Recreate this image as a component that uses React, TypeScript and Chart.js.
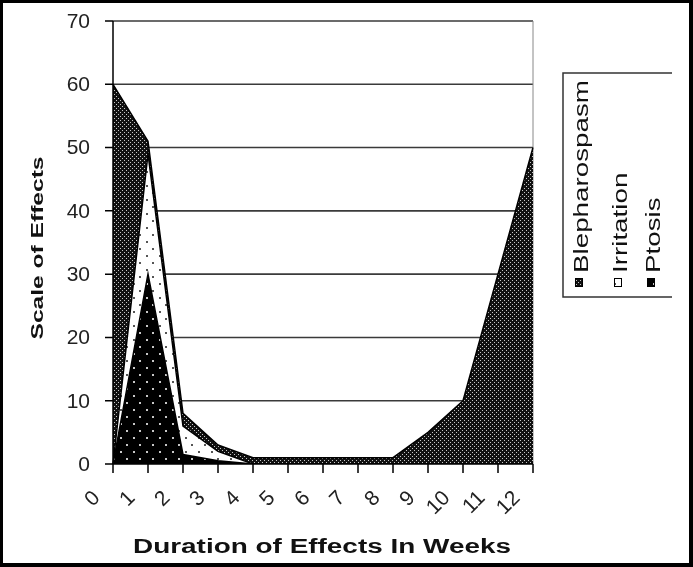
import React, { useEffect, useRef } from 'react';
import { Chart, registerables } from 'chart.js';

Chart.register(...registerables);

const weeks = ['0', '1', '2', '3', '4', '5', '6', '7', '8', '9', '10', '11', '12'];
const blepharospasm = [60, 51, 8, 3, 1, 1, 1, 1, 1, 5, 10, 30, 50];
const irritation = [0, 49, 6, 2, 0, 0, 0, 0, 0, 0, 0, 0, 0];
const ptosis = [0, 30, 1.5, 0.5, 0, 0, 0, 0, 0, 0, 0, 0, 0];
const yTicks = [0, 10, 20, 30, 40, 50, 60, 70];
const seriesNames = ['Blepharospasm', 'Irritation', 'Ptosis'];
const yTitle = 'Scale of Effects';
const xTitle = 'Duration of Effects In Weeks';

const FONT = '"Liberation Sans", Arial, sans-serif';

function makePattern(kind: string): CanvasPattern | string {
  const c = document.createElement('canvas');
  if (kind === 'dense') {
    c.width = 4;
    c.height = 4;
    const g = c.getContext('2d')!;
    g.fillStyle = '#111';
    g.fillRect(0, 0, 4, 4);
    g.fillStyle = '#c8c8c8';
    g.fillRect(0, 0, 1, 1);
    g.fillRect(2, 2, 1, 1);
  } else {
    c.width = 13;
    c.height = 14;
    const g = c.getContext('2d')!;
    g.fillStyle = kind === 'white' ? '#fff' : '#000';
    g.fillRect(0, 0, 13, 14);
    g.fillStyle = kind === 'white' ? '#555' : '#c8c8c8';
    g.fillRect(3, 3, 2, 2);
    g.fillRect(9, 10, 2, 2);
  }
  const ctx = document.createElement('canvas').getContext('2d')!;
  return ctx.createPattern(c, 'repeat') || '#000';
}

export default function App() {
  const ref = useRef<HTMLCanvasElement>(null);

  useEffect(() => {
    const canvas = ref.current;
    if (!canvas) return;
    const patterns = [makePattern('dense'), makePattern('white'), makePattern('black')];

    const decor = {
      id: 'decor',
      beforeDraw(chart: any) {
        const ctx = chart.ctx;
        ctx.save();
        ctx.fillStyle = '#fff';
        ctx.fillRect(0, 0, chart.width, chart.height);
        ctx.restore();
      },
      beforeDatasetsDraw(chart: any) {
        const ctx = chart.ctx;
        const { left, right, top, bottom } = chart.chartArea;
        const ys = chart.scales.y;
        ctx.save();
        ctx.strokeStyle = '#3a3a3a';
        ctx.lineWidth = 1.6;
        yTicks.forEach((v) => {
          if (v === 0) return;
          const y = ys.getPixelForValue(v);
          ctx.beginPath();
          ctx.moveTo(left, y);
          ctx.lineTo(right, y);
          ctx.stroke();
        });
        ctx.strokeStyle = '#888';
        ctx.lineWidth = 1;
        ctx.beginPath();
        ctx.moveTo(right, top);
        ctx.lineTo(right, bottom);
        ctx.stroke();
        ctx.restore();
      },
      afterDatasetsDraw(chart: any) {
        const ctx = chart.ctx;
        const { left, right, top, bottom } = chart.chartArea;
        const xs = chart.scales.x;
        const ys = chart.scales.y;
        ctx.save();
        // axes
        ctx.strokeStyle = '#000';
        ctx.lineWidth = 1.5;
        ctx.beginPath();
        ctx.moveTo(left, top);
        ctx.lineTo(left, bottom);
        ctx.moveTo(left, bottom);
        ctx.lineTo(right, bottom);
        ctx.stroke();
        ctx.beginPath();
        yTicks.forEach((v) => {
          const y = ys.getPixelForValue(v);
          ctx.moveTo(left - 8, y);
          ctx.lineTo(left, y);
        });
        weeks.forEach((_, i) => {
          const x = xs.getPixelForValue(i);
          ctx.moveTo(x, bottom);
          ctx.lineTo(x, bottom + 9);
        });
        ctx.stroke();

        // y tick labels
        ctx.fillStyle = '#222';
        ctx.font = `21px ${FONT}`;
        ctx.textAlign = 'right';
        ctx.textBaseline = 'middle';
        yTicks.forEach((v) => {
          ctx.fillText(String(v), left - 23, ys.getPixelForValue(v) + 1);
        });

        // x tick labels, rotated
        weeks.forEach((w, i) => {
          const x = xs.getPixelForValue(i);
          ctx.save();
          ctx.translate(x - 16, bottom + 31);
          ctx.rotate(-Math.PI / 4);
          ctx.textAlign = 'right';
          ctx.textBaseline = 'middle';
          ctx.fillText(w, 0, 0);
          ctx.restore();
        });

        // y title
        ctx.save();
        ctx.font = `bold 16px ${FONT}`;
        ctx.fillStyle = '#111';
        const wy = ctx.measureText(yTitle).width;
        ctx.translate(43, 248);
        ctx.rotate(-Math.PI / 2);
        ctx.scale(183 / wy, 1);
        ctx.textAlign = 'center';
        ctx.textBaseline = 'alphabetic';
        ctx.fillText(yTitle, 0, 0);
        ctx.restore();

        // x title
        ctx.save();
        ctx.font = `bold 20px ${FONT}`;
        ctx.fillStyle = '#111';
        const wx = ctx.measureText(xTitle).width;
        ctx.translate(322, 553);
        ctx.scale(378 / wx, 1);
        ctx.textAlign = 'center';
        ctx.textBaseline = 'alphabetic';
        ctx.fillText(xTitle, 0, 0);
        ctx.restore();

        // legend box
        ctx.strokeStyle = '#333';
        ctx.lineWidth = 1.5;
        ctx.beginPath();
        ctx.moveTo(672, 73);
        ctx.lineTo(563, 73);
        ctx.lineTo(563, 297);
        ctx.lineTo(672, 297);
        ctx.stroke();

        ctx.font = `21px ${FONT}`;
        const wl = ctx.measureText(seriesNames[0]).width;
        const lscale = 193 / wl;
        const baselines = [588, 627, 660];
        seriesNames.forEach((name, i) => {
          const bx = baselines[i];
          // swatch
          ctx.fillStyle = patterns[i] as any;
          ctx.fillRect(bx - 13, 278, 8, 9);
          ctx.strokeStyle = '#000';
          ctx.lineWidth = 1;
          ctx.strokeRect(bx - 13 + 0.5, 278.5, 7, 8);
          // text
          ctx.save();
          ctx.fillStyle = '#111';
          ctx.translate(bx, 273);
          ctx.rotate(-Math.PI / 2);
          ctx.scale(lscale, 1);
          ctx.textAlign = 'left';
          ctx.textBaseline = 'alphabetic';
          ctx.fillText(name, 0, 0);
          ctx.restore();
        });
        ctx.restore();
      },
      afterDraw(chart: any) {
        const ctx = chart.ctx;
        ctx.save();
        ctx.fillStyle = '#000';
        ctx.fillRect(0, 0, 693, 3);
        ctx.fillRect(0, 0, 3, 567);
        ctx.fillRect(689, 0, 4, 567);
        ctx.fillRect(0, 563, 693, 4);
        ctx.restore();
      },
    };

    const chart = new Chart(canvas, {
      type: 'line',
      data: {
        labels: weeks,
        datasets: [
          {
            label: seriesNames[0],
            data: blepharospasm,
            fill: 'origin',
            backgroundColor: patterns[0] as any,
            borderColor: '#000',
            borderWidth: 1.5,
            pointRadius: 0,
            tension: 0,
            order: 3,
          },
          {
            label: seriesNames[1],
            data: irritation,
            fill: 'origin',
            backgroundColor: patterns[1] as any,
            borderColor: '#000',
            borderWidth: 1.5,
            pointRadius: 0,
            tension: 0,
            order: 2,
          },
          {
            label: seriesNames[2],
            data: ptosis,
            fill: 'origin',
            backgroundColor: patterns[2] as any,
            borderColor: '#000',
            borderWidth: 1.5,
            pointRadius: 0,
            tension: 0,
            order: 1,
          },
        ],
      },
      options: {
        responsive: false,
        animation: false,
        devicePixelRatio: 1,
        layout: { padding: { left: 113, right: 160, top: 21, bottom: 103 } },
        scales: {
          x: { display: false, offset: false },
          y: { display: false, min: 0, max: 70 },
        },
        plugins: {
          legend: { display: false },
          tooltip: { enabled: false },
        },
      },
      plugins: [decor],
    });

    return () => chart.destroy();
  }, []);

  return (
    <div style={{ position: 'absolute', left: 0, top: 0, width: 693, height: 567 }}>
      <canvas ref={ref} width={693} height={567} style={{ display: 'block' }} />
    </div>
  );
}
